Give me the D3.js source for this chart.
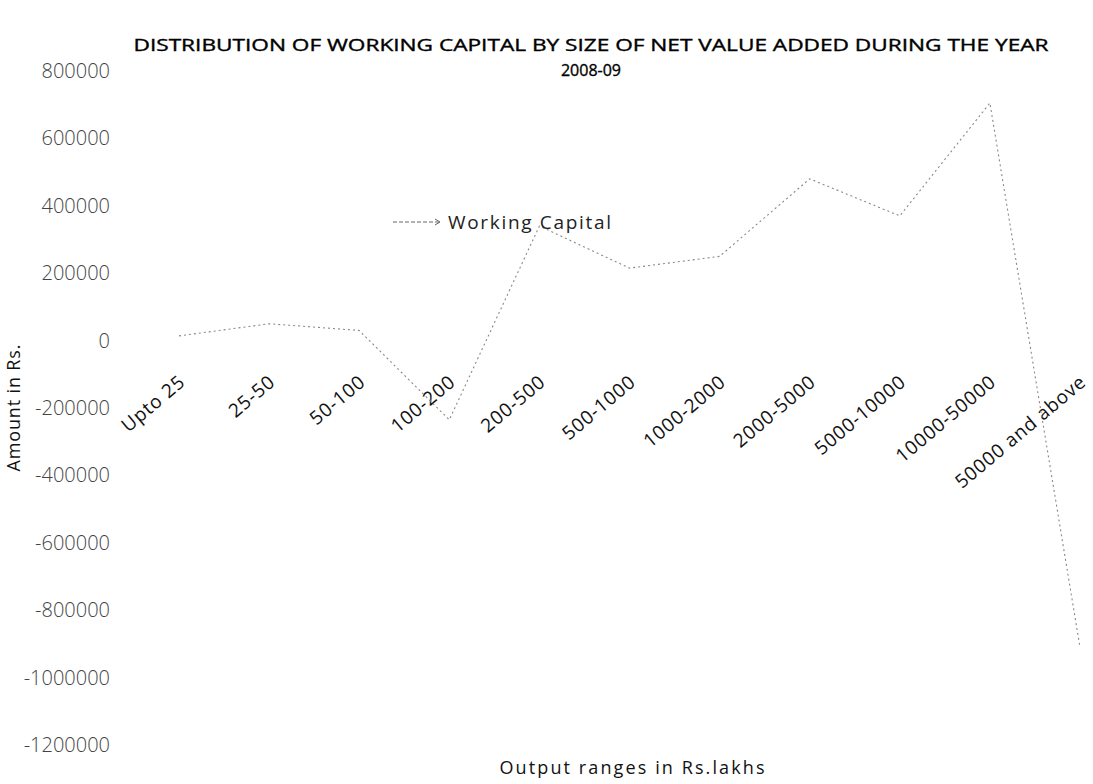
<!DOCTYPE html>
<html>
<head>
<meta charset="utf-8">
<script src="https://cdn.jsdelivr.net/npm/d3@7"></script>
<style>
    body { margin: 0; background: #fff; }
    text { font-family: "Open Sans", "Noto Sans", sans-serif; }
</style>
</head>
<body>
<div id="chart"></div>
<script>
'use strict';

// Data
const categories = ['Upto 25', '25-50', '50-100', '100-200', '200-500', '500-1000',
    '1000-2000', '2000-5000', '5000-10000', '10000-50000', '50000 and above'];
const workingCapital = [14000, 50000, 30000, -235000, 340000, 215000,
    250000, 480000, 370000, 705000, -910000];
const yTicks = [800000, 600000, 400000, 200000, 0, -200000, -400000,
    -600000, -800000, -1000000, -1200000];

/*
Chart
 */
class LineChart {

    // Configs
    svgW = 1093;
    svgH = 784;

    // Tools
    xScale = d3.scalePoint().domain(categories).range([179, 1080]);
    yScale = d3.scaleLinear().domain([-1200000, 800000]).range([745, 71]);
    lineMaker = d3.line();

    constructor(_target) {
        this.target = _target;
        this.init();
    }

    init() {
        const vis = this;

        vis.svg = d3.select(`#${vis.target}`)
            .append('svg')
            .attr('width', vis.svgW)
            .attr('height', vis.svgH);

        vis.render();
    }

    render() {
        const vis = this;

        // Title
        vis.svg.append('text')
            .attr('x', 591)
            .attr('y', 51)
            .attr('text-anchor', 'middle')
            .attr('font-size', 16)
            .attr('textLength', 915)
            .attr('lengthAdjust', 'spacingAndGlyphs')
            .attr('fill', '#000')
            .attr('stroke', '#000')
            .attr('stroke-width', 0.35)
            .text('DISTRIBUTION OF WORKING CAPITAL BY SIZE OF NET VALUE ADDED DURING THE YEAR');
        vis.svg.append('text')
            .attr('x', 591)
            .attr('y', 76)
            .attr('text-anchor', 'middle')
            .attr('font-size', 16)
            .attr('fill', '#000')
            .attr('stroke', '#000')
            .attr('stroke-width', 0.35)
            .text('2008-09');

        // Y axis (labels only)
        const yAxis = d3.axisLeft(vis.yScale)
            .tickValues(yTicks)
            .tickSize(0)
            .tickPadding(0)
            .tickFormat(d => String(d));
        vis.svg.append('g')
            .attr('class', 'yAxis')
            .attr('transform', 'translate(110,0)')
            .call(yAxis)
            .call(g => g.select('.domain').remove())
            .selectAll('text')
            .attr('font-family', '"DejaVu Sans", sans-serif')
            .attr('font-weight', 200)
            .attr('font-size', 20)
            .attr('fill', '#444');

        // X axis labels, rotated
        const xAxis = d3.axisBottom(vis.xScale).tickSize(0).tickPadding(0);
        vis.svg.append('g')
            .attr('class', 'xAxis')
            .attr('transform', 'translate(0,370)')
            .call(xAxis)
            .call(g => g.select('.domain').remove())
            .selectAll('text')
            .attr('font-size', 19)
            .attr('letter-spacing', 0.8)
            .attr('fill', '#111')
            .attr('text-anchor', 'end')
            .attr('dx', '-0.2em')
            .attr('dy', '0.8em')
            .attr('transform', 'rotate(-40)');

        // Axis titles
        vis.svg.append('text')
            .attr('transform', 'translate(20,408) rotate(-90)')
            .attr('text-anchor', 'middle')
            .attr('font-size', 18)
            .attr('textLength', 127)
            .attr('fill', '#111')
            .text('Amount in Rs.');
        vis.svg.append('text')
            .attr('x', 632)
            .attr('y', 774)
            .attr('text-anchor', 'middle')
            .attr('font-size', 18)
            .attr('textLength', 265)
            .attr('fill', '#111')
            .text('Output ranges in Rs.lakhs');

        // Line
        const coords = categories.map((c, i) => [vis.xScale(c), vis.yScale(workingCapital[i])]);
        vis.svg.append('path')
            .attr('class', 'wcPath')
            .attr('d', vis.lineMaker(coords))
            .attr('fill', 'none')
            .attr('stroke', '#888')
            .attr('stroke-width', 1.1)
            .attr('stroke-dasharray', '2,3');

        // Legend
        const legendG = vis.svg.append('g')
            .attr('class', 'legendG')
            .attr('transform', 'translate(393,222)');
        legendG.append('line')
            .attr('x1', 0).attr('x2', 46)
            .attr('stroke', '#666')
            .attr('stroke-dasharray', '4,2');
        legendG.append('path')
            .attr('d', 'M42,-3L47,0L42,3')
            .attr('fill', 'none')
            .attr('stroke', '#666');
        legendG.append('text')
            .attr('x', 55)
            .attr('dy', '0.35em')
            .attr('font-size', 19)
            .attr('textLength', 163)
            .attr('fill', '#222')
            .text('Working Capital');
    }
}

new LineChart('chart');
</script>
</body>
</html>
